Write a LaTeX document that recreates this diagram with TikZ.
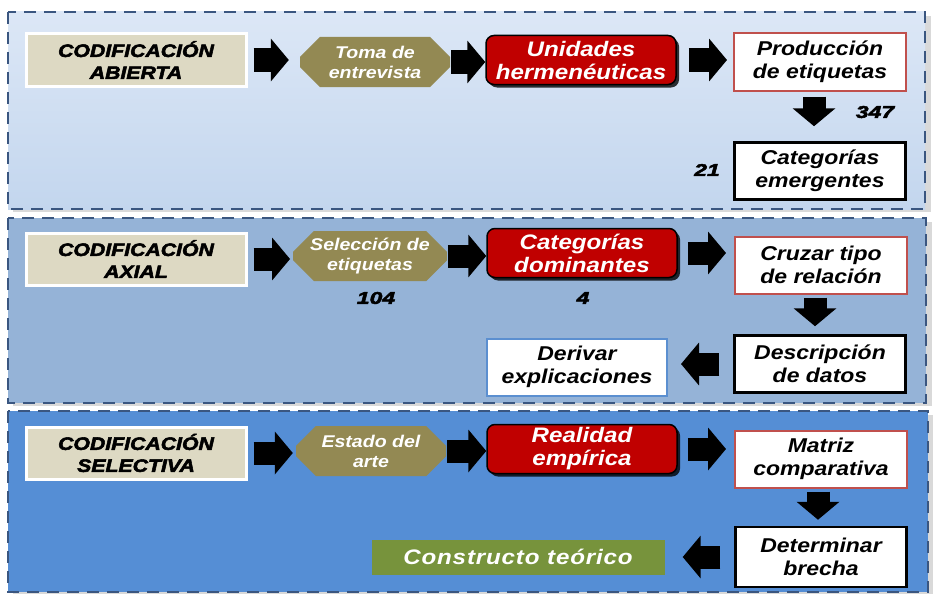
\documentclass[tikz,border=0pt]{standalone}
\usepackage{fontspec}
\setmainfont{Liberation Sans}
\newfontfamily\cajafont[FakeStretch=1.15]{Liberation Sans}
\newfontfamily\anchafont[FakeStretch=1.15,LetterSpace=4]{Liberation Sans}
\newfontfamily\gruesafont[FakeStretch=1.18,BoldItalicFeatures={FakeBold=3}]{Liberation Sans}
\newfontfamily\cifrafont[FakeStretch=1.35,BoldItalicFeatures={FakeBold=3}]{Liberation Sans}
\usepackage{tikz}
\usetikzlibrary{arrows.meta,shapes.misc,shadows}

\definecolor{fondouno}{HTML}{DCE7F6}
\definecolor{fondounob}{HTML}{C3D6EE}
\definecolor{fondodos}{HTML}{95B3D7}
\definecolor{fondotres}{HTML}{558ED5}
\definecolor{rayas}{HTML}{3A5680}
\definecolor{beige}{HTML}{DDD9C3}
\definecolor{oliva}{HTML}{938953}
\definecolor{rojo}{HTML}{C00000}
\definecolor{bordrojo}{HTML}{C0504D}
\definecolor{bordazul}{HTML}{5B8FD0}
\definecolor{verde}{HTML}{77933C}

\tikzset{
    panel/.style={draw=rayas, line width=2.8pt, dash pattern=on 12pt off 8pt},
    texto/.style={font=\cajafont\bfseries\itshape\fontsize{20}{23}\selectfont, align=center, inner sep=0pt},
    titulo/.style={draw=white, line width=3pt, fill=beige, minimum width=220pt, minimum height=52pt,
        align=center, font=\gruesafont\bfseries\itshape\fontsize{18}{22}\selectfont,
        drop shadow={shadow xshift=2pt, shadow yshift=-2pt, opacity=.35}},
    etapa/.style={texto, text=white, fill=oliva, shape=chamfered rectangle,
        chamfered rectangle xsep=17pt, minimum width=150pt, minimum height=50pt,
        font=\cajafont\bfseries\itshape\fontsize{17}{20}\selectfont},
    unidad/.style={texto, text=white, fill=rojo, draw=black, line width=1.5pt, rounded corners=8pt,
        minimum width=190pt, minimum height=49pt,
        font=\cajafont\bfseries\itshape\fontsize{21}{23}\selectfont,
        drop shadow={shadow xshift=3pt, shadow yshift=-3pt, opacity=.8, fill=black}},
    cajaroja/.style={texto, fill=white, draw=bordrojo, line width=2pt, minimum width=172pt, minimum height=57pt},
    cajanegra/.style={texto, fill=white, draw=black, line width=2.5pt, minimum width=171pt, minimum height=57pt},
    cajaazul/.style={texto, fill=white, draw=bordazul, line width=2pt, minimum width=180pt, minimum height=57pt},
    numero/.style={font=\cifrafont\bfseries\itshape\fontsize{17}{20}\selectfont, inner sep=0pt},
    flecha/.style={line width=23pt, -{Triangle[length=18pt,width=42pt]}},
}

\begin{document}
\begin{tikzpicture}[x=1pt,y=-1pt]
        \useasboundingbox (0,0) rectangle (933,594);
        % paneles de fondo
        \fill[gray!30] (13,16) rectangle (931,212);
        \fill[top color=fondouno, bottom color=fondounob] (8,12) rectangle (925,209);
        \draw[panel] (8,12) rectangle (925,209);
        \fill[gray!30] (13,222) rectangle (932,406);
        \fill[fondodos] (8,218) rectangle (926,403);
        \draw[panel] (8,218) rectangle (926,403);
        \fill[gray!30] (13,415) rectangle (933,594);
        \fill[fondotres] (8,411) rectangle (928,592);
        \draw[panel] (8,411) rectangle (928,592);

        % codificacion abierta
        \node[titulo] (t1) at (136,60) {CODIFICACIÓN\\ABIERTA};
        \node[etapa] (o1) at (375,62) {Toma de\\entrevista};
        \node[unidad] (r1) at (581,60) {Unidades\\hermenéuticas};
        \node[cajaroja] (p1) at (820,62) {Producción\\de etiquetas};
        \node[cajanegra] (c1) at (820,171) {Categorías\\emergentes};
        \node[numero] (n1) at (875,112) {347};
        \node[numero] (n2) at (707,170) {21};
        \draw[flecha, shorten <=6pt, shorten >=11pt] (t1.east) -- (t1.east -| o1.west);
        \draw[flecha, shorten <=1pt] (o1.east) -- (o1.east -| r1.west);
        \draw[flecha, shorten <=12pt, shorten >=6pt] (r1.east) -- (r1.east -| p1.west);
        \draw[flecha, shorten <=5pt, shorten >=15pt] (p1.south -| 814,0) -- (c1.north -| 814,0);

        % codificacion axial
        \node[titulo] (t2) at (136,259) {CODIFICACIÓN\\AXIAL};
        \node[etapa] (o2) at (370,256) {Selección de\\etiquetas};
        \node[unidad] (r2) at (582,253) {Categorías\\dominantes};
        \node[cajaroja] (p2) at (821,265) {Cruzar tipo\\de relación};
        \node[cajanegra] (d2) at (820,364) {Descripción\\de datos};
        \node[cajaazul] (e2) at (577,367) {Derivar\\explicaciones};
        \node[numero] (n3) at (376,298) {104};
        \node[numero] (n4) at (583,298) {4};
        \draw[flecha, shorten <=6pt, shorten >=3pt] (t2.east) -- (t2.east -| o2.west);
        \draw[flecha, shorten <=1pt] (o2.east) -- (o2.east -| r2.west);
        \draw[flecha, shorten <=10pt, shorten >=8pt] (r2.east) -- (r2.east -| p2.west);
        \draw[flecha, shorten <=3pt, shorten >=8pt] (p2.south -| 815,0) -- (d2.north -| 815,0);
        \draw[flecha, shorten <=14pt, shorten >=13pt] (d2.west) -- (d2.west -| e2.east);

        % codificacion selectiva
        \node[titulo] (t3) at (136,453) {CODIFICACIÓN\\SELECTIVA};
        \node[etapa] (o3) at (371,451) {Estado del\\arte};
        \node[unidad] (r3) at (582,449) {Realidad\\empírica};
        \node[cajaroja] (p3) at (821,459) {Matriz\\comparativa};
        \node[cajanegra, minimum height=60pt] (d3) at (821,557) {Determinar\\brecha};
        \node[texto, text=white, fill=verde, minimum width=293pt, minimum height=35pt,
            font=\anchafont\bfseries\itshape\fontsize{21}{23}\selectfont] (g3) at (518,557) {Constructo teórico};
        \draw[flecha, shorten <=6pt, shorten >=3pt] (t3.east) -- (t3.east -| o3.west);
        \draw[flecha, shorten <=1pt] (o3.east) -- (o3.east -| r3.west);
        \draw[flecha, shorten <=10pt, shorten >=8pt] (r3.east) -- (r3.east -| p3.west);
        \draw[flecha, shorten <=3pt, shorten >=6pt] (p3.south -| 818,0) -- (d3.north -| 818,0);
        \draw[flecha, shorten <=14pt, shorten >=18pt] (d3.west) -- (d3.west -| g3.east);
    \end{tikzpicture}
\end{document}
